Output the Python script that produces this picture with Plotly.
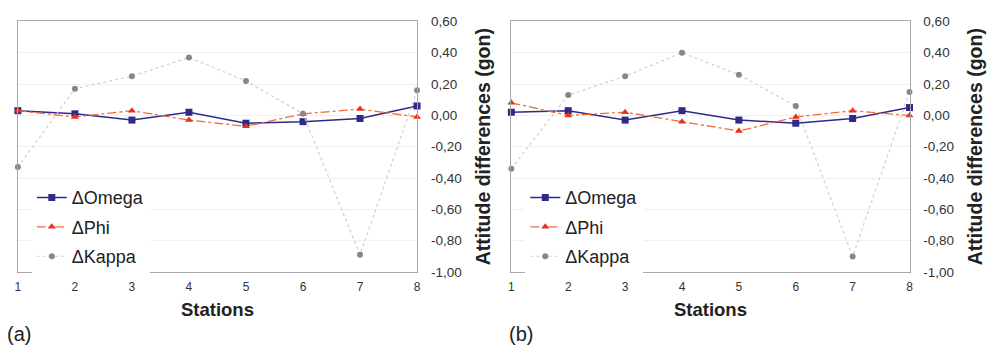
import plotly.graph_objects as go

stations = [1, 2, 3, 4, 5, 6, 7, 8]

# Panel (a)
a_omega = [0.03, 0.01, -0.03, 0.02, -0.05, -0.04, -0.02, 0.06]
a_phi = [0.03, -0.01, 0.03, -0.03, -0.07, 0.01, 0.04, -0.01]
a_kappa = [-0.33, 0.17, 0.25, 0.37, 0.22, 0.01, -0.89, 0.16]

# Panel (b)
b_omega = [0.02, 0.03, -0.03, 0.03, -0.03, -0.05, -0.02, 0.05]
b_phi = [0.08, 0.00, 0.02, -0.04, -0.10, -0.01, 0.03, 0.00]
b_kappa = [-0.34, 0.13, 0.25, 0.40, 0.26, 0.06, -0.90, 0.15]

y_tick_vals = [0.60, 0.40, 0.20, 0.00, -0.20, -0.40, -0.60, -0.80, -1.00]
y_tick_labels = ["0,60", "0,40", "0,20", "0,00", "-0,20", "-0,40", "-0,60", "-0,80", "-1,00"]
series_names = ["\u0394Omega", "\u0394Phi", "\u0394Kappa"]
panel_labels = ["(a)", "(b)"]

FONT = "Liberation Sans, Arial, sans-serif"
C_OMEGA = "#2e2a8a"
C_PHI_LINE = "#f26a3c"
C_PHI_MARK = "#e8321e"
C_KAPPA_LINE = "#cfcfcf"
C_KAPPA_MARK = "#878787"

fig = go.Figure()

panels = [
    (a_omega, a_phi, a_kappa, "x", "y", "legend"),
    (b_omega, b_phi, b_kappa, "x2", "y2", "legend2"),
]
for om, ph, ka, xa, ya, lg in panels:
    fig.add_trace(go.Scatter(
        x=stations, y=om, name=series_names[0], xaxis=xa, yaxis=ya, legend=lg,
        legendgroup=lg + "o", mode="lines+markers", cliponaxis=False,
        line=dict(color=C_OMEGA, width=1.5),
        marker=dict(symbol="square", size=7, color=C_OMEGA)))
    fig.add_trace(go.Scatter(
        x=stations, y=ph, name=series_names[1], xaxis=xa, yaxis=ya, legend=lg,
        legendgroup=lg + "p", mode="lines+markers", cliponaxis=False,
        line=dict(color=C_PHI_LINE, width=1.3, dash="dashdot"),
        marker=dict(symbol="triangle-up", size=7, color=C_PHI_MARK)))
    fig.add_trace(go.Scatter(
        x=stations, y=ka, name=series_names[2], xaxis=xa, yaxis=ya, legend=lg,
        legendgroup=lg + "k", mode="lines+markers", cliponaxis=False,
        line=dict(color=C_KAPPA_LINE, width=1.2, dash="dot"),
        marker=dict(symbol="circle", size=6, color=C_KAPPA_MARK)))

W, H = 987, 349
xa_dom = [15 / W, 417 / W]
xb_dom = [512 / W, 913 / W]
y_dom = [(H - 277) / H, (H - 15) / H]

def xaxis(dom, anchor):
    return dict(domain=dom, anchor=anchor, range=[1, 8], tickvals=stations,
                showgrid=False, zeroline=False, showline=True, mirror=True,
                linecolor="#a8a8a8", linewidth=1.3, ticks="", ticklabelstandoff=3,
                tickfont=dict(family=FONT, size=12, color="#333333"),
                title=dict(text="<b>Stations</b>", standoff=10,
                           font=dict(family=FONT, size=18.5, color="#222222")))

def yaxis(anchor):
    return dict(domain=y_dom, anchor=anchor, side="right", range=[-1.0, 0.6],
                tickvals=y_tick_vals, ticktext=y_tick_labels,
                showgrid=True, gridcolor="#edf1f5", gridwidth=1,
                zeroline=False, showline=True, mirror=True,
                linecolor="#a8a8a8", linewidth=1.3, ticks="", ticklabelstandoff=10,
                tickfont=dict(family=FONT, size=13.5, color="#333333"),
                title=dict(text="<b>Attitude differences (gon)</b>", standoff=15,
                           font=dict(family=FONT, size=19.5, color="#222222")))

def legend(xpx):
    return dict(x=xpx / W, y=(H - 180) / H, xanchor="left", yanchor="top",
                bgcolor="white", borderwidth=0, tracegroupgap=3,
                font=dict(family=FONT, size=18, color="#222222"),
                itemwidth=30)

fig.update_layout(
    width=W, height=H, margin=dict(l=0, r=0, t=0, b=0),
    paper_bgcolor="white", plot_bgcolor="white",
    showlegend=True,
    xaxis=xaxis(xa_dom, "y"), yaxis=yaxis("x"),
    xaxis2=xaxis(xb_dom, "y2"), yaxis2=yaxis("x2"),
    legend=legend(29), legend2=legend(526),
    annotations=[
        dict(text=panel_labels[0], x=2 / W, y=(H - 342) / H, xref="paper", yref="paper",
             xanchor="left", yanchor="middle", showarrow=False,
             font=dict(family=FONT, size=20, color="#222222")),
        dict(text=panel_labels[1], x=508 / W, y=(H - 342) / H, xref="paper", yref="paper",
             xanchor="left", yanchor="middle", showarrow=False,
             font=dict(family=FONT, size=20, color="#222222")),
    ],
)

fig.write_html("out.html")
